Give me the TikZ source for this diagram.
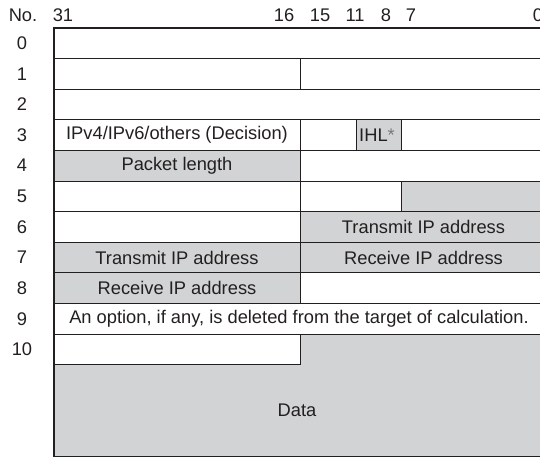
\documentclass[tikz,border=0pt]{standalone}
\usepackage{fontspec}
\setmainfont{Liberation Sans}
\usepackage{tikz}
\usetikzlibrary{positioning}
\definecolor{fieldgray}{HTML}{D1D3D4}
\definecolor{linecol}{HTML}{231F20}

\begin{document}
\begin{tikzpicture}[x=1pt,y=-1pt,
          cell/.style={draw=linecol,line width=0.9pt},
          shaded/.style={cell,fill=fieldgray},
          lbl/.style={font=\fontsize{18.3}{20}\selectfont,text=linecol,inner sep=0pt}
        ]
        \useasboundingbox (0,0) rectangle (540,457);
        \clip (0,0) rectangle (540,457);
        % bit numbers and word numbers
        \node[lbl] (no) at (23,15.5) {No.};
        \foreach \bit/\xpos in {31/63,16/284,15/320,11/355,8/386,7/411,0/538}
          \node[lbl] (b\bit) at (\xpos,15.5) {\bit};
        \foreach \row in {0,...,10}
          \node[lbl] (r\row) at (22,{43.3+30.6*\row}) {\row};
        % header fields
        \draw[cell] (54,28) rectangle (547,58.6);
        \draw[cell] (54,58.6) rectangle (300,89.2);
        \draw[cell] (300,58.6) rectangle (547,89.2);
        \draw[cell] (54,89.2) rectangle (547,119.8);
        \draw[cell] (54,119.8) rectangle (300,150.4);
        \draw[cell] (300,119.8) rectangle (356,150.4);
        \draw[shaded] (356,119.8) rectangle (401,150.4);
        \draw[cell] (401,119.8) rectangle (547,150.4);
        \draw[shaded] (54,150.4) rectangle (300,181);
        \draw[cell] (300,150.4) rectangle (547,181);
        \draw[cell] (54,181) rectangle (300,211.6);
        \draw[cell] (300,181) rectangle (401,211.6);
        \draw[shaded] (401,181) rectangle (547,211.6);
        \draw[cell] (54,211.6) rectangle (300,242.2);
        \draw[shaded] (300,211.6) rectangle (547,242.2);
        \draw[shaded] (54,242.2) rectangle (300,272.8);
        \draw[shaded] (300,242.2) rectangle (547,272.8);
        \draw[shaded] (54,272.8) rectangle (300,303.4);
        \draw[cell] (300,272.8) rectangle (547,303.4);
        \draw[cell] (54,303.4) rectangle (547,334);
        % data
        \draw[shaded] (54,364.6) -- (300,364.6) -- (300,334) -- (547,334)
          -- (547,456) -- (54,456) -- cycle;
        \draw[cell] (54,334) rectangle (300,364.6);
        \draw[linecol,line width=2.4pt] (54,28.5) -- (54,457);
        \draw[linecol,line width=1.8pt] (53,28) -- (547,28);
        % field names
        \node[lbl] (ipver) at (177,135.1) {IPv4/IPv6/others (Decision)};
        \node[lbl] (ihl) at (377,135.1) {IHL{\color{linecol!60}*}};
        \node[lbl] (pktlen) at (177,165.7) {Packet length};
        \node[lbl] (txip1) at (423.5,226.9) {Transmit IP address};
        \node[lbl] (txip2) at (177,257.5) {Transmit IP address};
        \node[lbl] (rxip1) at (423.5,257.5) {Receive IP address};
        \node[lbl] (rxip2) at (177,288.1) {Receive IP address};
        \node[lbl] (opt) at (299,318.7) {An option, if any, is deleted from the target of calculation.};
        \node[lbl] (data) at (297,410.3) {Data};
      \end{tikzpicture}
\end{document}
